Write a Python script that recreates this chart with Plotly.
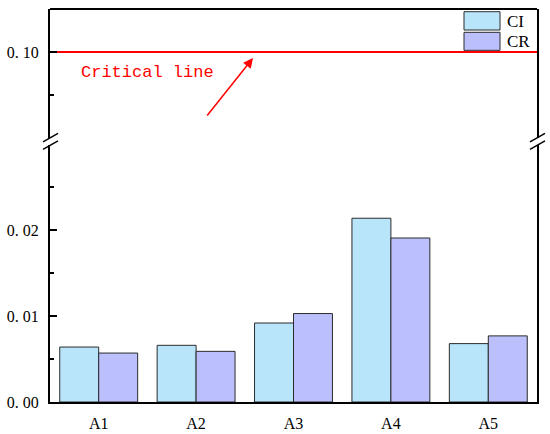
import plotly.graph_objects as go

# data
categories = ["A1", "A2", "A3", "A4", "A5"]
ci_values = [0.0064, 0.0066, 0.0092, 0.0214, 0.0068]
cr_values = [0.0057, 0.0059, 0.0103, 0.0191, 0.0077]
critical_value = 0.10
lower_ticks = [0.00, 0.01, 0.02]
lower_labels = ["0. 00", "0. 01", "0. 02"]
upper_ticks = [0.10]
upper_labels = ["0. 10"]

ci_color = "#B9E5FB"
cr_color = "#BBC0FC"
edge = "#2b2b2b"
serif = "Liberation Serif"

# plot area in pixels (window 550x434)
L, R, T, B = 50, 537, 9, 401.7
W, H = R - L, B - T


def px(x):
    return (x - L) / W


def py(y):
    return (B - y) / H


fig = go.Figure()
fig.add_trace(go.Bar(x=categories, y=ci_values, name="CI", marker=dict(color=ci_color, line=dict(color=edge, width=1)), showlegend=False))
fig.add_trace(go.Bar(x=categories, y=cr_values, name="CR", marker=dict(color=cr_color, line=dict(color=edge, width=1)), showlegend=False))

axis_common = dict(
    showline=True, linecolor="black", linewidth=2, mirror=True,
    ticks="inside", ticklen=7, tickwidth=2, tickcolor="black",
    showgrid=False, zeroline=False, ticklabelstandoff=6, automargin=False,
    tickfont=dict(family=serif, size=16, color="black"),
)

fig.update_layout(
    width=550, height=434,
    margin=dict(l=L, r=550 - R, t=T, b=434 - B),
    paper_bgcolor="white", plot_bgcolor="white",
    barmode="group", bargap=0.2, bargroupgap=0,
    xaxis=dict(
        range=[-0.5, 4.5], showline=True, linecolor="black", linewidth=2,
        ticks="", showgrid=False, zeroline=False, ticklabelstandoff=6, automargin=False,
        tickfont=dict(family=serif, size=16, color="black"),
    ),
    yaxis=dict(
        domain=[0, py(145)], range=[0, (B - 145) / 8580],
        tickvals=lower_ticks, ticktext=lower_labels,
        minor=dict(tickvals=[0.005, 0.015, 0.025], ticks="inside", ticklen=4, tickwidth=2, tickcolor="black"),
        **axis_common,
    ),
    yaxis2=dict(
        domain=[py(137.6), 1], range=[0.10 - (137.6 - 52) / 8580, 0.10 + 43 / 8580],
        tickvals=upper_ticks, ticktext=upper_labels, anchor="x",
        minor=dict(tickvals=[0.095], ticks="inside", ticklen=4, tickwidth=2, tickcolor="black"),
        **axis_common,
    ),
)

shapes = []
# critical line
shapes.append(dict(type="line", xref="paper", yref="y2", x0=0, x1=1, y0=critical_value, y1=critical_value,
                   line=dict(color="#FF0000", width=2), layer="below"))
# top frame
shapes.append(dict(type="line", xref="paper", yref="paper", x0=0, x1=1, y0=1, y1=1, line=dict(color="black", width=2)))
# axis break marks
for xc in (L, R):
    for dy in (0, 7.5):
        shapes.append(dict(type="line", xref="paper", yref="paper",
                           x0=px(xc - 7), y0=py(141.7 + dy), x1=px(xc + 8), y1=py(133.3 + dy),
                           line=dict(color="black", width=1.5)))
# legend boxes
for (y0, y1), col in (((11.7, 30), ci_color), ((32.3, 50.3), cr_color)):
    shapes.append(dict(type="rect", xref="paper", yref="paper", x0=px(464), x1=px(500), y0=py(y1), y1=py(y0),
                       fillcolor=col, line=dict(color=edge, width=1)))
fig.update_layout(shapes=shapes)

fig.add_annotation(xref="paper", yref="paper", x=px(505), y=py(21), text="CI", showarrow=False,
                   xanchor="left", yanchor="middle", font=dict(family=serif, size=17, color="black"))
fig.add_annotation(xref="paper", yref="paper", x=px(505), y=py(41.3), text="CR", showarrow=False,
                   xanchor="left", yanchor="middle", font=dict(family=serif, size=17, color="black"))
fig.add_annotation(xref="paper", yref="paper", x=px(79), y=py(72), text="Critical line", showarrow=False,
                   xanchor="left", yanchor="middle", font=dict(family="Liberation Mono", size=17, color="#FF0000"))
# arrow
fig.add_annotation(xref="paper", yref="y2", x=px(253), y=critical_value - 6 / 8580, ax=-47, ay=59,
                   text="", showarrow=True, arrowhead=2, arrowsize=1.3, arrowwidth=1.5, arrowcolor="#FF0000")

fig.write_html("out.html", config={"displayModeBar": False},
               post_script="document.body.style.margin='0';")
